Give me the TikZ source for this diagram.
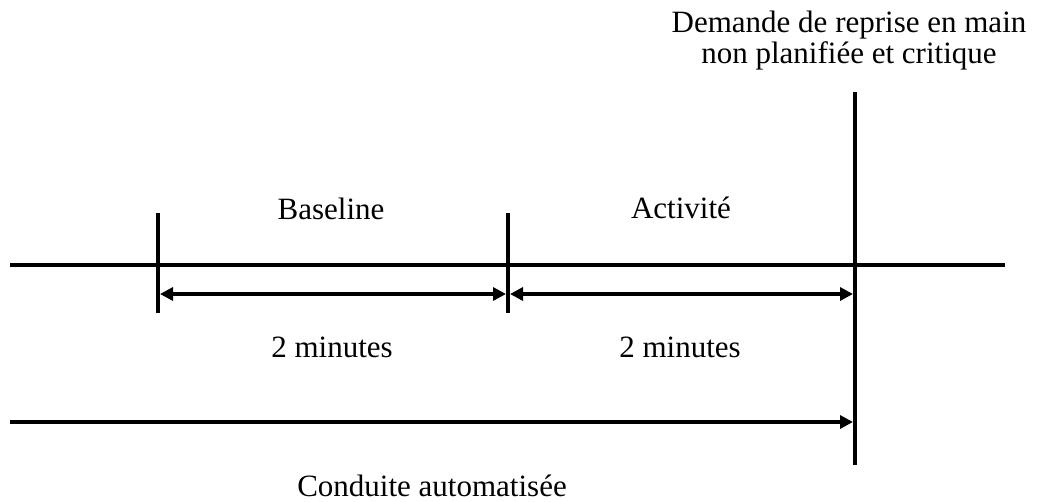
\documentclass[tikz,border=0pt]{standalone}
\usepackage{fontspec}
\setmainfont{Liberation Serif}
\usetikzlibrary{arrows.meta}
\usetikzlibrary{positioning}

\begin{document}
\begin{tikzpicture}[x=1pt, y=-1pt,
  thick line/.style={line width=4pt},
  span/.style={line width=4pt, {Triangle[length=13pt,width=13pt]}-{Triangle[length=13pt,width=13pt]}},
  onward/.style={line width=4pt, -{Triangle[length=13pt,width=13pt]}},
  txt/.style={font=\fontsize{31}{31}\selectfont, align=center, inner sep=0pt, anchor=base}]

  \useasboundingbox (0,0) rectangle (1040,501);

  % Define points
  \coordinate (t_start) at (10,265);
  \coordinate (t_end) at (1005,265);
  \coordinate (base_top) at (158,213);
  \coordinate (base_bot) at (158,313);
  \coordinate (act_top) at (508,213);
  \coordinate (act_bot) at (508,313);
  \coordinate (req_top) at (855,92);
  \coordinate (req_bot) at (855,465);
  \coordinate (base_l) at (160,294);
  \coordinate (base_r) at (506,294);
  \coordinate (act_l) at (510,294);
  \coordinate (act_r) at (853,294);
  \coordinate (auto_l) at (10,422);
  \coordinate (auto_r) at (853,422);

  % Labels
  \node[txt] (baseline) at (331,219) {Baseline};
  \node[txt] (activity) at (681,218) {Activité};
  \node[txt] (dur_base) at (332,357) {2 minutes};
  \node[txt] (dur_act) at (680,357) {2 minutes};
  \node[txt] (auto) at (432,496) {Conduite automatisée};
  \node[txt] (request) at (849,63) {Demande de reprise en main\\non planifiée et critique};

  % Timeline and marks
  \draw[thick line] (t_start) -- (t_end);
  \draw[thick line] (base_top) -- (base_bot);
  \draw[thick line] (act_top) -- (act_bot);
  \draw[thick line] (req_top) -- (req_bot);

  % Durations
  \draw[span] (base_l) -- (base_r);
  \draw[span] (act_l) -- (act_r);
  \draw[onward] (auto_l) -- (auto_r);

\end{tikzpicture}
\end{document}
